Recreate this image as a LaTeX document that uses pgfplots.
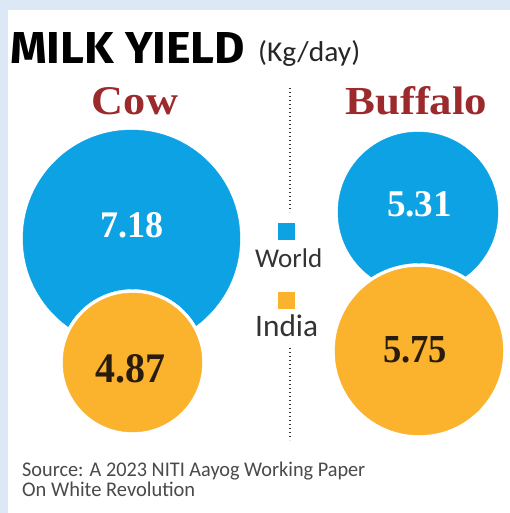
\documentclass[border=0pt]{standalone}
\usepackage{fontspec}
\setmainfont{Liberation Serif}
\newfontfamily\carlito{Carlito}
\newfontfamily\fira{Fira Sans}
\usepackage{graphicx}
\usepackage{pgfplots}
\usepackage{pgfplotstable}
\pgfplotsset{compat=1.18}

\definecolor{worldblue}{HTML}{0DA2E3}
\definecolor{indiaorange}{HTML}{FBB22C}
\definecolor{cowred}{HTML}{9C2A2C}
\definecolor{bgblue}{HTML}{DCE8F5}
\definecolor{txtgray}{HTML}{333333}
\definecolor{srcgray}{HTML}{4A4A4A}
\definecolor{valdark}{HTML}{2A1C0C}

% x, y in picture pixels, r = bubble radius, v = value (kg/day)
\pgfplotstableread{
x y r v
131.5 238.5 108.5 7.18
418 212 80 5.31
}\worldtab
\pgfplotstableread{
x y r v
132.5 362.5 69.5 4.87
419 351 84 5.75
}\indiatab

\begin{document}
\begin{tikzpicture}
\begin{axis}[
  width=510pt, height=513pt, scale only axis,
  xmin=0, xmax=510, ymin=0, ymax=513, y dir=reverse,
  hide axis, clip=false,
]
\fill[bgblue] (axis cs:0,0) rectangle (axis cs:510,513);
\fill[white] (axis cs:8,10) rectangle (axis cs:510,513);

% world bubbles
\addplot[scatter, only marks, mark=*,
  scatter/use mapped color={draw=worldblue, fill=worldblue},
  visualization depends on={\thisrow{r} \as \rad},
  scatter/@pre marker code/.append style={/tikz/mark size=\rad}]
  table[x=x, y=y, meta=v] {\worldtab};
% white rings round the india bubbles
\addplot[scatter, only marks, mark=*,
  scatter/use mapped color={draw=white, fill=white},
  visualization depends on={\thisrow{r}+3.5 \as \rad},
  scatter/@pre marker code/.append style={/tikz/mark size=\rad}]
  table[x=x, y=y, meta=v] {\indiatab};
% india bubbles
\addplot[scatter, only marks, mark=*,
  scatter/use mapped color={draw=indiaorange, fill=indiaorange},
  visualization depends on={\thisrow{r} \as \rad},
  scatter/@pre marker code/.append style={/tikz/mark size=\rad}]
  table[x=x, y=y, meta=v] {\indiatab};

% anchor points for the texts, drawn after the axis so they lie on top
\coordinate (t1) at (axis cs:10,64);
\coordinate (t2) at (axis cs:258,62);
\coordinate (cw) at (axis cs:135,115);
\coordinate (bf) at (axis cs:345,115);
\coordinate (v1) at (axis cs:131.5,225.5);
\coordinate (v2) at (axis cs:130,369);
\coordinate (v3) at (axis cs:419.5,204.5);
\coordinate (v4) at (axis cs:415,350);
\coordinate (l1a) at (axis cs:278,223);
\coordinate (l1b) at (axis cs:295,240);
\coordinate (l1t) at (axis cs:255,268);
\coordinate (l2a) at (axis cs:278,292);
\coordinate (l2b) at (axis cs:295,309);
\coordinate (l2t) at (axis cs:255,337);
\coordinate (s1) at (axis cs:22,477);
\coordinate (s2) at (axis cs:22,497);
\coordinate (d1) at (axis cs:290,88);
\coordinate (d2) at (axis cs:290,212);
\coordinate (d3) at (axis cs:290,348);
\coordinate (d4) at (axis cs:290,440);
\end{axis}

% divider
\draw[black!80, line width=1.4pt, dash pattern=on 1.3pt off 2.7pt] (d1) -- (d2);
\draw[black!80, line width=1.4pt, dash pattern=on 1.3pt off 2.7pt] (d3) -- (d4);

% title
\node[anchor=base west, inner sep=0, text=black] at (t1) {\resizebox{235pt}{31pt}{\fira\bfseries MILK YIELD}};
\node[anchor=base west, inner sep=0, text=black!85] at (t2) {\resizebox{102pt}{21pt}{\carlito (Kg/day)}};

\node[anchor=base, inner sep=0, text=cowred] at (cw) {\resizebox{86pt}{27pt}{\bfseries Cow}};
\node[anchor=base west, inner sep=0, text=cowred] at (bf) {\resizebox{142pt}{28pt}{\bfseries Buffalo}};

% values
\node[inner sep=0, text=white] at (v1) {\resizebox{63pt}{25pt}{\bfseries 7.18}};
\node[inner sep=0, text=valdark] at (v2) {\resizebox{70pt}{28pt}{\bfseries 4.87}};
\node[inner sep=0, text=white] at (v3) {\resizebox{65pt}{25pt}{\bfseries 5.31}};
\node[inner sep=0, text=valdark] at (v4) {\resizebox{64pt}{26pt}{\bfseries 5.75}};

% legend
\fill[worldblue] (l1a) rectangle (l1b);
\node[anchor=base west, inner sep=0, text=txtgray] at (l1t) {\resizebox{67pt}{!}{\carlito World}};
\fill[indiaorange] (l2a) rectangle (l2b);
\node[anchor=base west, inner sep=0, text=txtgray] at (l2t) {\resizebox{63pt}{!}{\carlito India}};

% source
\node[anchor=base west, inner sep=0, text=srcgray] at (s1) {\resizebox{343pt}{14.5pt}{\carlito Source: A 2023 NITI Aayog Working Paper}};
\node[anchor=base west, inner sep=0, text=srcgray] at (s2) {\resizebox{173pt}{14.5pt}{\carlito On White Revolution}};
\end{tikzpicture}
\end{document}
